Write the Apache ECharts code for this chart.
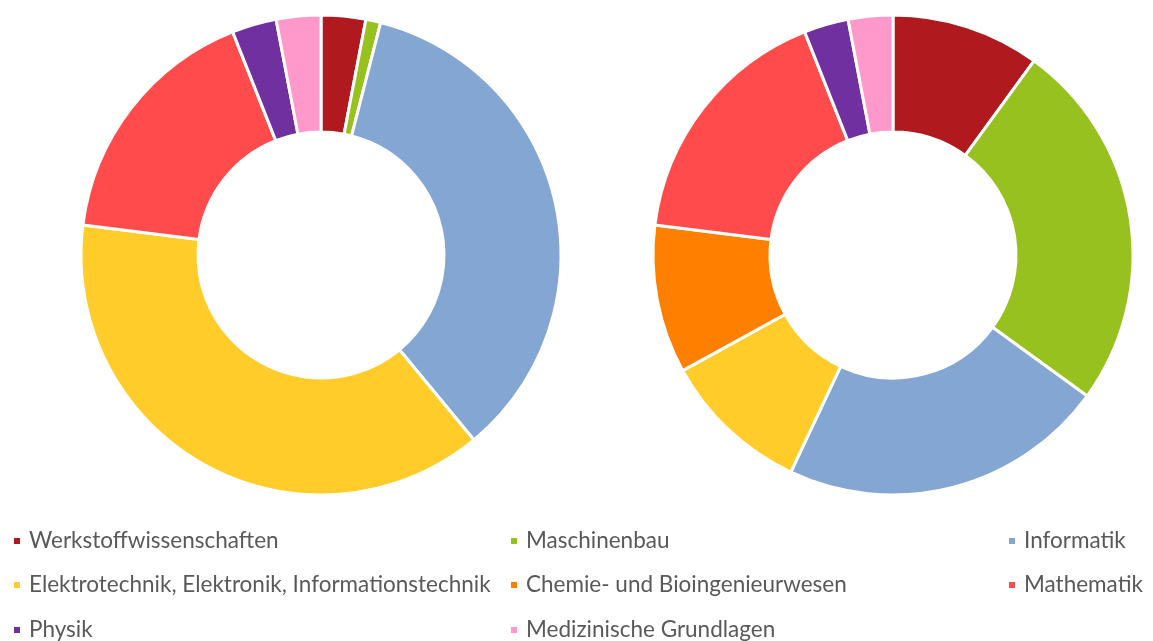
<!DOCTYPE html>
<html><head><meta charset="utf-8">
<script src="https://cdn.jsdelivr.net/npm/echarts@6/dist/echarts.min.js"></script>
<style>html,body{margin:0;padding:0;background:#fff}#c{width:1153px;height:641px}</style>
</head><body><div id="c"></div>
<script>
const categories = ["Werkstoffwissenschaften","Maschinenbau","Informatik","Elektrotechnik, Elektronik, Informationstechnik","Chemie- und Bioingenieurwesen","Mathematik","Physik","Medizinische Grundlagen"];
const colors = ["#B01A1E","#97C11F","#84A6D2","#FFCC29","#FF8000","#FF4B4B","#7030A0","#FF99CC"];
const leftValues = [3,1,35,38,0,17,3,3];
const rightValues = [10,25,22,10,10,17,3,3];

function mk(vals){return categories.map((n,i)=>({name:n,value:vals[i],itemStyle:{color:colors[i]}})).filter(d=>d.value>0);}
const chart = echarts.init(document.getElementById('c'));
// legend grid: 3 columns, items flow row by row
const colX = [12,509,1007];
const rowY = [541,585,630];
const legends = categories.map((n,i)=>({
  orient:'horizontal', left: colX[i%3]-5, top: rowY[Math.floor(i/3)]-17,
  itemWidth:8,itemHeight:8,icon:'rect',selectedMode:false,
  textStyle:{fontFamily:'Lato',fontSize:22.5,lineHeight:24,color:'#595959',padding:[0,0,0,3]},
  data:[n]
}));
chart.setOption({
  animation:false,
  legend:legends,
  series:[
    {type:'pie',center:[321,255],radius:[123,240],startAngle:90,label:{show:false},labelLine:{show:false},
     itemStyle:{borderColor:'#fff',borderWidth:3},data:mk(leftValues)},
    {type:'pie',center:[893,255],radius:[123,240],startAngle:90,label:{show:false},labelLine:{show:false},
     itemStyle:{borderColor:'#fff',borderWidth:3},data:mk(rightValues)}
  ]
});
</script></body></html>
